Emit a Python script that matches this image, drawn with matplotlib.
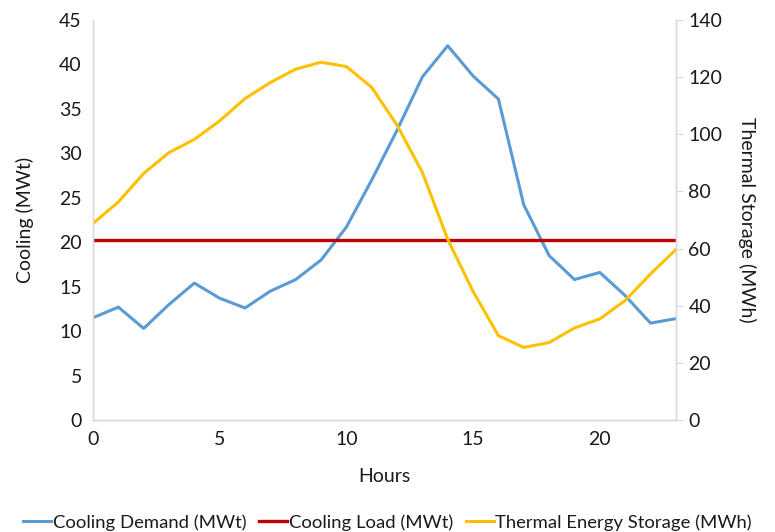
import matplotlib.pyplot as plt

plt.rcParams['font.family'] = ['Lato', 'DejaVu Sans']

hours = list(range(24))
cooling_demand = [11.5, 12.7, 10.3, 13.0, 15.4, 13.7, 12.6, 14.5, 15.8, 18.0, 21.7, 27.0,
                  32.6, 38.6, 42.1, 38.7, 36.1, 24.2, 18.5, 15.8, 16.6, 14.0, 10.9, 11.4]
cooling_load = [20.3] * 24
thermal_storage = [68.8, 76.3, 86.3, 93.6, 98.2, 104.7, 112.5, 118.1, 122.8, 125.2, 123.7, 116.4,
                   103.2, 86.6, 63.2, 45.0, 29.5, 25.4, 27.1, 32.2, 35.4, 41.8, 51.1, 59.6]

grey = '#d9d9d9'
txt = '#1a1a1a'
fig = plt.figure(figsize=(7.75, 5.32), dpi=100)
ax = fig.add_axes([0.12, 0.2105, 0.752, 0.752])
ax2 = ax.twinx()

l1, = ax.plot(hours, cooling_demand, color='#5B9BD5', lw=2.2, label='Cooling Demand (MWt)')
l2, = ax.plot(hours, cooling_load, color='#C00000', lw=2.4, label='Cooling Load (MWt)')
l3, = ax2.plot(hours, thermal_storage, color='#FFC000', lw=2.2, label='Thermal Energy Storage (MWh)')

ax.set_xlim(0, 23)
ax.set_ylim(0, 45)
ax2.set_ylim(0, 140)
ax.set_xticks([0, 5, 10, 15, 20])
ax.set_yticks(range(0, 46, 5))
ax2.set_yticks(range(0, 141, 20))

for a in (ax, ax2):
    a.spines['top'].set_visible(False)
    for s in ('left', 'right', 'bottom'):
        a.spines[s].set_color(grey)
        a.spines[s].set_linewidth(1.0)
    a.tick_params(labelsize=14, colors=txt)
ax.tick_params(axis='both', length=0, pad=8)
ax2.tick_params(axis='y', length=5, color=grey, pad=4)

ax.set_xlabel('Hours', fontsize=14, color=txt, labelpad=14)
ax.set_ylabel('Cooling (MWt)', fontsize=14, color=txt, labelpad=18)
ax2.set_ylabel('Thermal Storage (MWh)', fontsize=14, color=txt, rotation=270, labelpad=24)

fig.legend(handles=[l1, l2, l3], loc='center', bbox_to_anchor=(0.5, 0.018), ncol=3,
           frameon=False, fontsize=13.3, handlelength=1.5, handletextpad=0.1, columnspacing=0.7,
           labelcolor=txt)

fig.savefig('out.png', dpi=100)
